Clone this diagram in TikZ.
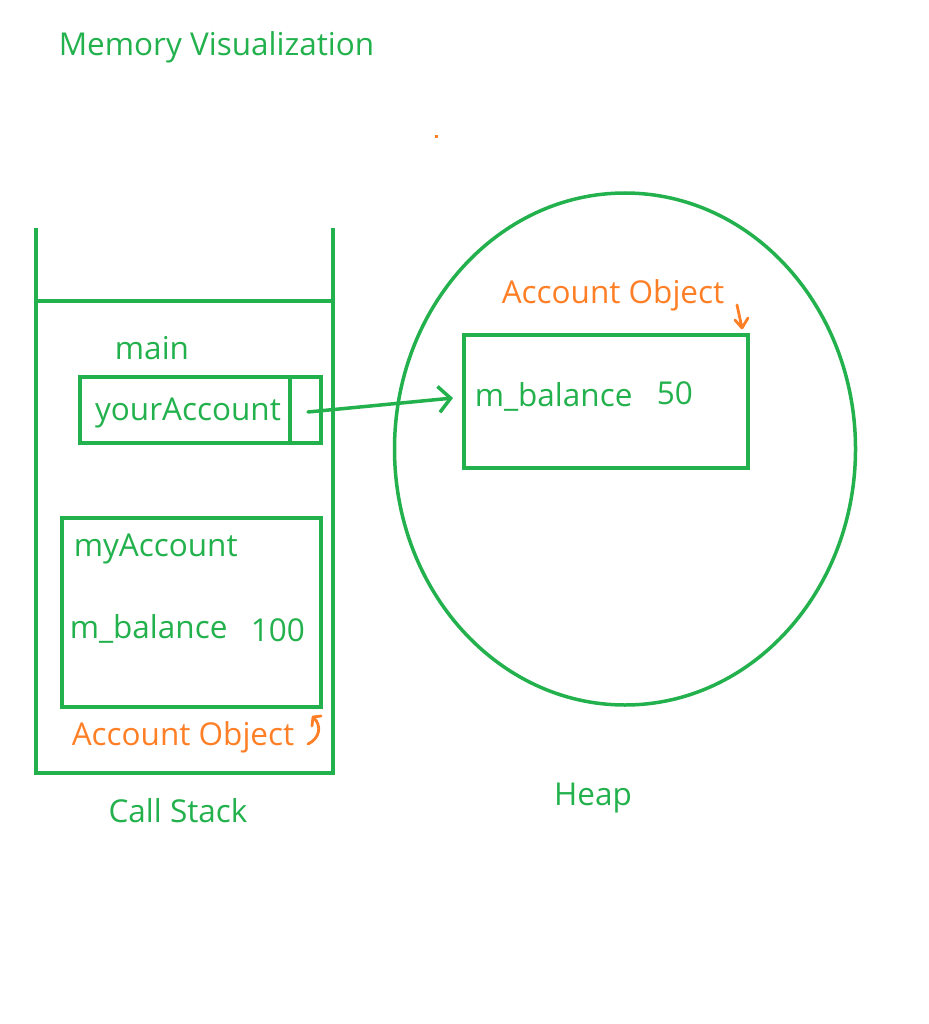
\documentclass[tikz,border=0pt]{standalone}
\usepackage{fontspec}
\setmainfont{Open Sans}
\usetikzlibrary{positioning,arrows.meta,shapes.geometric}
\definecolor{pgreen}{RGB}{34,177,76}
\definecolor{porange}{RGB}{255,127,39}

\begin{document}
\begin{tikzpicture}[x=1pt,y=-1pt,line width=3.5pt,
    lbl/.style={text=pgreen,font=\fontsize{31.5}{36}\selectfont,inner sep=0pt,yshift=-2.5pt},
    olbl/.style={lbl,text=porange},
    box/.style={draw=pgreen,inner sep=0pt,outer sep=0pt,anchor=north west}]
  \useasboundingbox (0,0) rectangle (928,1024);

  \node[lbl,anchor=west] (title) at (57,45) {Memory Visualization};
  \fill[porange] (434.5,135.5) rectangle (437.5,138.5);

  % call stack
  \draw[pgreen] (36,228) -- (36,773) -- (333,773) -- (333,228);
  \draw[pgreen] (36,301) -- (333,301);
  \node[lbl] (main) at (152,346) {main};
  \node[box,minimum width=241pt,minimum height=66pt] (ya) at (80,377) {};
  \draw[pgreen] (290,377) -- (290,443);
  \node[lbl] (yatxt) at (188,410) {yourAccount};
  \coordinate (ptr) at (308,412);

  \node[box,minimum width=259pt,minimum height=189pt] (ma) at (62,518) {};
  \node[lbl,anchor=west] (matxt) at (72,546) {myAccount};
  \node[lbl,anchor=west] (mabal) at (68,626) {m\_balance};
  \node[lbl,anchor=west] (maval) at (249,628) {100};
  \node[olbl,anchor=west] (maobj) at (70,735) {Account Object};
  \draw[porange,line width=2.8pt,line cap=round,line join=round]
    (308,744) .. controls (319,739) and (323,726) .. (313,717)
    (313,717) -- (312,726) (313,717) -- (321,716);
  \node[lbl] (cs) at (178,808) {Call Stack};

  % heap
  \node[draw=pgreen,ellipse,minimum width=461pt,minimum height=512pt,inner sep=0pt,outer sep=0pt] (heap) at (625,449) {};
  \node[box,minimum width=284pt,minimum height=133pt] (obj) at (464,335) {};
  \node[lbl,anchor=west] (objbal) at (473,394) {m\_balance};
  \node[lbl,anchor=west] (objval) at (655,391) {50};
  \node[olbl,anchor=west] (objlbl) at (500,293) {Account Object};
  \coordinate (objtip) at (742,328);
  \draw[porange,line width=2.8pt,line cap=round,line join=round] (737,305) -- (objtip)
    (objtip) -- (735,320) (objtip) -- (748,318);
  \node[lbl] (hp) at (593,796) {Heap};

  \draw[pgreen,-{Straight Barb[length=12pt,width=26pt,line width=3.5pt]},line cap=round]
    (ptr) -- (453,398);
\end{tikzpicture}
\end{document}
